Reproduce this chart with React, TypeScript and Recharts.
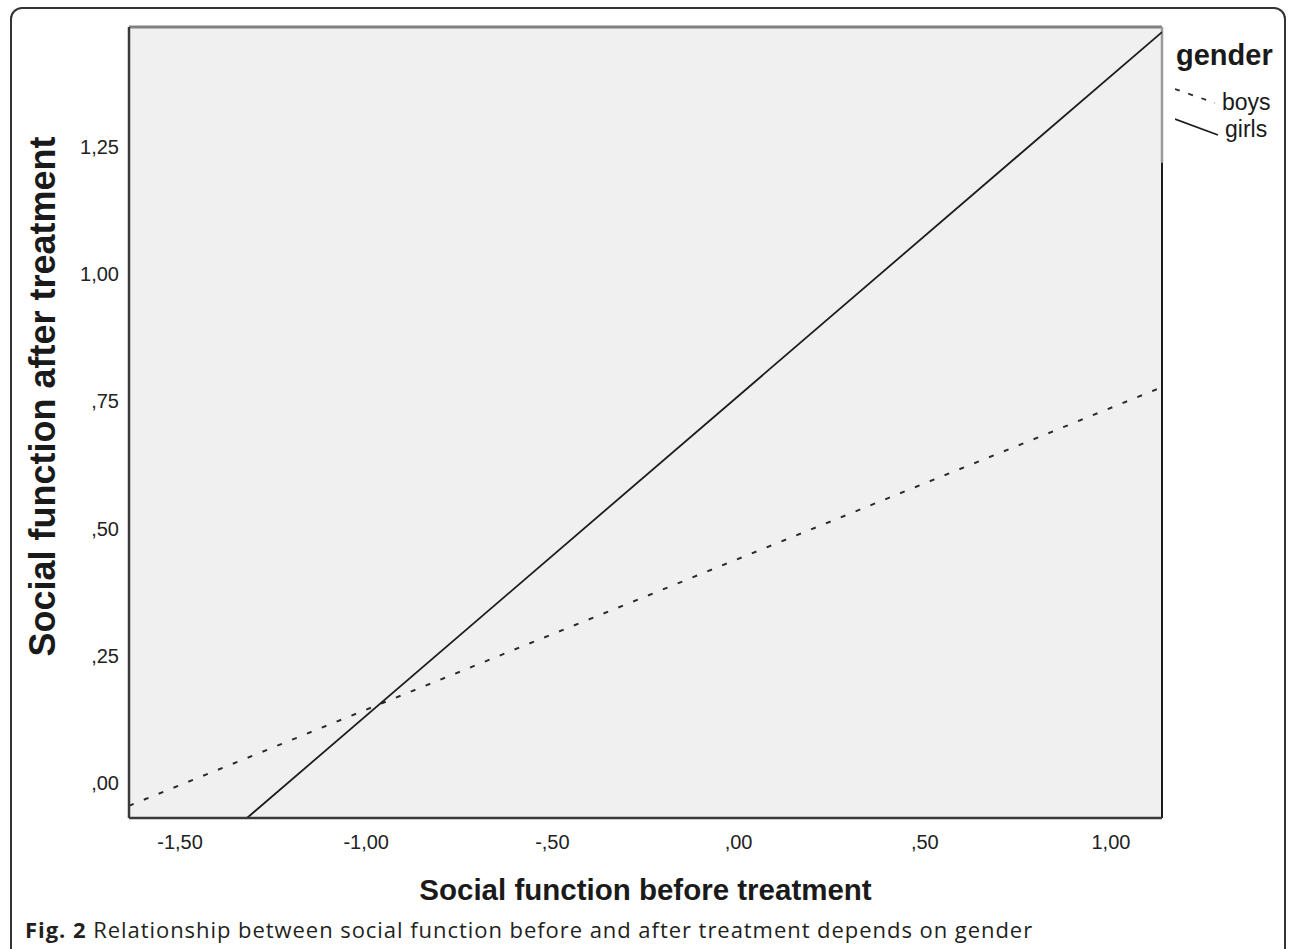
import React from "react";
import { LineChart, Line, XAxis, YAxis, CartesianGrid, ReferenceLine, Legend, Label } from "recharts";

// regression lines (x = before, y = after)
const boysX = [-1.637, 1.137];
const boysY = [-0.045, 0.778];
const girlsX = [-1.32, 1.137];
const girlsY = [-0.069, 1.476];

const xTicks = [-1.5, -1, -0.5, 0, 0.5, 1];
const yTicks = [0, 0.25, 0.5, 0.75, 1, 1.25];
const xDomain = [-1.637, 1.137];
const yDomain = [-0.069, 1.486];

const boysData = boysX.map((x, i) => ({ x, y: boysY[i] }));
const girlsData = girlsX.map((x, i) => ({ x, y: girlsY[i] }));

// SPSS style: comma decimal, no leading zero
const fmt = (v: number) => v.toFixed(2).replace(".", ",").replace(/^(-?)0,/, "$1,");

const sans = "'Liberation Sans', Arial, sans-serif";
const tickStyle = { fill: "#222", fontSize: 20, fontFamily: sans };

function GenderLegend({ payload }: any) {
  const items = payload ?? [];
  return (
    <svg width={115} height={110} style={{ display: "block" }}>
      <text x={1} y={27} fontFamily={sans} fontWeight={700} fontSize={29} fill="#1a1a1a">gender</text>
      {items.map((e: any, i: number) => (
        <g key={e.value}>
          <line
            x1={0}
            y1={51 + i * 30}
            x2={40 + i * 3}
            y2={65 + i * 32}
            stroke={e.color}
            strokeWidth={1.8}
            strokeDasharray={e.payload?.strokeDasharray ? "5 9" : undefined}
          />
          <text x={47 + i * 3} y={72 + i * 27} fontFamily={sans} fontSize={23} fill="#1a1a1a">{e.value}</text>
        </g>
      ))}
    </svg>
  );
}

export default function App() {
  return (
    <div style={{ position: "absolute", left: 0, top: 0, width: 1290, height: 949, background: "#fff", overflow: "hidden" }}>
      <div
        style={{
          position: "absolute",
          left: 10,
          top: 7,
          width: 1276,
          height: 960,
          border: "2px solid #333",
          borderRadius: 12,
          boxSizing: "border-box",
        }}
      />
      <LineChart
        width={1290}
        height={949}
        margin={{ top: 27, right: 128, bottom: 71, left: 59 }}
        style={{ position: "absolute", left: 0, top: 0 }}
      >
        <CartesianGrid horizontal={false} vertical={false} fill="#F0F0F0" />
        <XAxis
          dataKey="x"
          type="number"
          domain={xDomain}
          ticks={xTicks}
          tickFormatter={fmt}
          allowDataOverflow
          height={60}
          tickLine={false}
          tickSize={0}
          tickMargin={17}
          tick={tickStyle}
          axisLine={{ stroke: "#3a3a3a", strokeWidth: 2.5 }}
        >
          <Label
            content={({ viewBox }: any) => (
              <text
                x={viewBox.x + viewBox.width / 2}
                y={viewBox.y + 71}
                textAnchor="middle"
                dominantBaseline="central"
                fontFamily={sans}
                fontWeight={700}
                fontSize={29.5}
                fill="#1a1a1a"
              >
                Social function before treatment
              </text>
            )}
          />
        </XAxis>
        <YAxis
          dataKey="y"
          type="number"
          domain={yDomain}
          ticks={yTicks}
          tickFormatter={fmt}
          allowDataOverflow
          width={70}
          tickLine={false}
          tickSize={0}
          tickMargin={10}
          tick={tickStyle}
          axisLine={{ stroke: "#3a3a3a", strokeWidth: 2.5 }}
        >
          <Label
            content={({ viewBox }: any) => {
              const cx = viewBox.x + viewBox.width - 87;
              const cy = viewBox.y + viewBox.height / 2 - 26;
              return (
                <text
                  x={cx}
                  y={cy}
                  transform={`rotate(-90, ${cx}, ${cy})`}
                  textAnchor="middle"
                  dominantBaseline="central"
                  fontFamily={sans}
                  fontWeight={700}
                  fontSize={36}
                  fill="#1a1a1a"
                >
                  Social function after treatment
                </text>
              );
            }}
          />
        </YAxis>
        <ReferenceLine y={yDomain[1]} stroke="#808080" strokeWidth={3} />
        <ReferenceLine x={xDomain[1]} stroke="#1a1a1a" strokeWidth={2} />
        <ReferenceLine
          segment={[
            { x: xDomain[1], y: 1.219 },
            { x: xDomain[1], y: yDomain[1] },
          ]}
          stroke="#9a9a9a"
          strokeWidth={2.5}
        />
        <Line
          data={boysData}
          dataKey="y"
          name="boys"
          type="linear"
          stroke="#2a2a2a"
          strokeWidth={2}
          strokeDasharray="5 11"
          dot={false}
          isAnimationActive={false}
        />
        <Line
          data={girlsData}
          dataKey="y"
          name="girls"
          type="linear"
          stroke="#1c1c1c"
          strokeWidth={1.8}
          dot={false}
          isAnimationActive={false}
        />
        <Legend
          layout="horizontal"
          align="center"
          verticalAlign="middle"
          content={<GenderLegend />}
          wrapperStyle={{ left: 1175, top: 38, width: 115 }}
        />
      </LineChart>
      <div
        style={{
          position: "absolute",
          left: 25,
          top: 914,
          fontFamily: "'Open Sans', sans-serif",
          fontSize: 22,
          letterSpacing: 0.95,
          color: "#231f20",
          whiteSpace: "nowrap",
        }}
      >
        <b>Fig. 2</b> Relationship between social function before and after treatment depends on gender
      </div>
    </div>
  );
}
